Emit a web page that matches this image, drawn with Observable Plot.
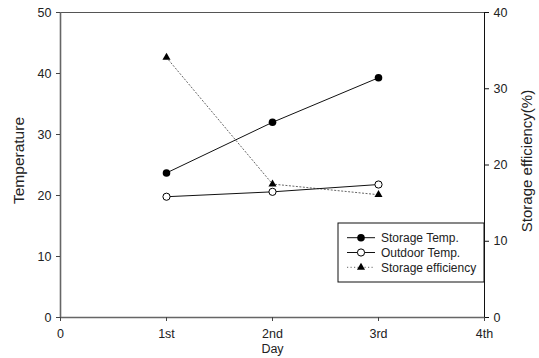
<!DOCTYPE html>
<html><head><meta charset="utf-8">
<script src="https://cdn.jsdelivr.net/npm/d3@7"></script>
<script src="https://cdn.jsdelivr.net/npm/@observablehq/plot@0.6"></script>
<style>
body{margin:0;background:#fff}
svg{font-family:Arial,"Liberation Sans",sans-serif}
</style>
</head><body><div id="chart"></div>
<script>
const days = [1, 2, 3];
const dayLabels = ["0", "1st", "2nd", "3rd", "4th"];
const storageTemp = [23.7, 32.0, 39.3];
const outdoorTemp = [19.8, 20.6, 21.8];
const storageEff = [34.1, 17.5, 16.1];
const leftTicks = [0, 10, 20, 30, 40, 50];
const rightTicks = [0, 10, 20, 30, 40];
const seriesNames = ["Storage Temp.", "Outdoor Temp.", "Storage efficiency"];
const leftMax = 50, rightMax = 40;
const k = leftMax / rightMax;

const st = days.map((d, i) => ({x: d, y: storageTemp[i]}));
const ot = days.map((d, i) => ({x: d, y: outdoorTemp[i]}));
const se = days.map((d, i) => ({x: d, y: storageEff[i] * k}));

const plot = Plot.plot({
  width: 539, height: 358,
  marginLeft: 60, marginRight: 55, marginTop: 12, marginBottom: 41,
  style: {fontSize: "12.5px", color: "#222", background: "#fff", overflow: "visible"},
  x: {domain: [0, 4]},
  y: {domain: [0, leftMax]},
  marks: [
    Plot.ruleY([leftMax], {stroke: "#555", strokeWidth: 1}),
    Plot.ruleY([0], {stroke: "#666", strokeWidth: 1.6}),
    Plot.ruleX([0], {stroke: "#666", strokeWidth: 1.6}),
    Plot.ruleX([4], {stroke: "#111", strokeWidth: 1}),
    Plot.axisX({ticks: [0, 1, 2, 3, 4], tickFormat: d => dayLabels[d], tickSize: 4, tickPadding: 8, label: null, stroke: "#444"}),
    Plot.axisY({ticks: leftTicks, tickSize: 4, tickPadding: 5, label: null, stroke: "#444"}),
    Plot.axisY({anchor: "right", ticks: rightTicks.map(v => v * k), tickFormat: v => String(Math.round(v / k)), tickSize: 4, tickPadding: 5, label: null, stroke: "#111"}),
    Plot.text(["Day"], {frameAnchor: "bottom", textAnchor: "middle", dx: 0, dy: 35.5, fontSize: 12.5, fill: "#222"}),
    Plot.text(["Temperature"], {frameAnchor: "left", textAnchor: "middle", dx: -41.5, dy: -4.5, rotate: -90, fontSize: 15.5, fill: "#222"}),
    Plot.text(["Storage efficiency(%)"], {frameAnchor: "right", textAnchor: "middle", dx: 42.5, dy: -4, rotate: -90, fontSize: 15, fill: "#222"}),
    Plot.line(se, {x: "x", y: "y", stroke: "#666", strokeWidth: 1, strokeDasharray: "1.2,2.3"}),
    Plot.line(ot, {x: "x", y: "y", stroke: "#111", strokeWidth: 1}),
    Plot.line(st, {x: "x", y: "y", stroke: "#111", strokeWidth: 1}),
    Plot.dot(se, {x: "x", y: "y", symbol: "triangle", r: 3, fill: "#000"}),
    Plot.dot(ot, {x: "x", y: "y", r: 3.6, fill: "#fff", stroke: "#000", strokeWidth: 1}),
    Plot.dot(st, {x: "x", y: "y", r: 3.8, fill: "#000"})
  ]
});
document.getElementById("chart").appendChild(plot);

// legend
const svg = d3.select(plot);
const lg = svg.append("g").attr("text-anchor", "start");
const bx = 338, by = 223, bw = 146, bh = 59;
lg.append("rect").attr("x", bx).attr("y", by).attr("width", bw).attr("height", bh)
  .attr("fill", "#fff").attr("stroke", "#111").attr("stroke-width", 1);
const styles = [
  {dash: null, stroke: "#111", sym: d3.symbolCircle, r: 3.8, fill: "#000", sstroke: "none"},
  {dash: null, stroke: "#111", sym: d3.symbolCircle, r: 3.6, fill: "#fff", sstroke: "#000"},
  {dash: "1.2,2.3", stroke: "#666", sym: d3.symbolTriangle, r: 3, fill: "#000", sstroke: "none"}
];
seriesNames.forEach((name, i) => {
  const y = 237.7 + i * 14.8;
  const s = styles[i];
  lg.append("line").attr("x1", 347).attr("x2", 375).attr("y1", y).attr("y2", y)
    .attr("stroke", s.stroke).attr("stroke-width", 1).attr("stroke-dasharray", s.dash);
  lg.append("path").attr("transform", `translate(361,${y})`)
    .attr("d", d3.symbol(s.sym, Math.PI * s.r * s.r)())
    .attr("fill", s.fill).attr("stroke", s.sstroke);
  lg.append("text").attr("x", 381).attr("y", y).attr("dy", "0.35em")
    .attr("text-anchor", "start")
    .attr("font-size", 12).attr("fill", "#222").text(name);
});
</script>
</body></html>
